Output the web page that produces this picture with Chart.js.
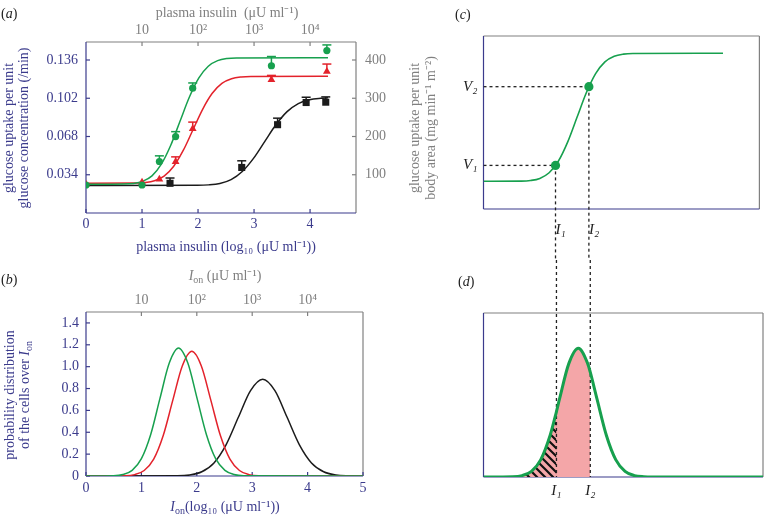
<!DOCTYPE html>
<html>
<head>
<meta charset="utf-8">
<script src="https://cdn.jsdelivr.net/npm/chart.js@4.4.1/dist/chart.umd.min.js"></script>
<style>
  body { margin: 0; background: #fff; width: 764px; height: 519px; position: relative; overflow: hidden; }
  canvas { position: absolute; }
</style>
</head>
<body>
<canvas id="ca" width="445" height="260" style="left:0;top:0"></canvas>
<canvas id="cb" width="445" height="259" style="left:0;top:260px"></canvas>
<canvas id="cc" width="364" height="260" style="left:400px;top:0"></canvas>
<canvas id="cd" width="364" height="259" style="left:400px;top:260px"></canvas>
<script>
// ---- panel (a): measured points (log10 insulin, uptake) and upward error bars
const aGreenX = [0, 1.0, 1.31, 1.6, 1.905, 3.31, 4.3];
const aGreenY = [0.0249, 0.0249, 0.0458, 0.0679, 0.111, 0.1309, 0.1444];
const aGreenErr = [0, 0, 0.005, 0.0044, 0.0046, 0.0082, 0.005];
const aRedX = [0, 1.0, 1.31, 1.6, 1.905, 3.31, 4.3];
const aRedY = [0.0255, 0.0273, 0.0299, 0.0455, 0.075, 0.1185, 0.1258];
const aRedErr = [0, 0, 0, 0.0044, 0.0058, 0.0038, 0.0066];
const aBlackX = [1.5, 2.78, 3.42, 3.93, 4.28];
const aBlackY = [0.0264, 0.0405, 0.0785, 0.0982, 0.0985];
const aBlackErr = [0.0047, 0.0059, 0.0058, 0.0047, 0.0047];

// fitted curves
const aFitGreenX = [0, 0.675, 0.843, 1.01, 1.178, 1.345, 1.513, 1.68, 1.848, 2.015, 2.183, 2.35, 2.518, 2.685, 4.32];
const aFitGreenY = [0.0255, 0.0257, 0.0262, 0.0281, 0.033, 0.0434, 0.0602, 0.0818, 0.1033, 0.1201, 0.1305, 0.1354, 0.1373, 0.1378, 0.138];
const aFitRedX = [0, 0.878, 1.05, 1.222, 1.394, 1.566, 1.738, 1.91, 2.082, 2.254, 2.426, 2.598, 2.77, 2.942, 4.32];
const aFitRedY = [0.0265, 0.0266, 0.0271, 0.0287, 0.0328, 0.0416, 0.0558, 0.074, 0.0922, 0.1064, 0.1152, 0.1193, 0.1209, 0.1214, 0.1215];
const aFitBlackX = [0, 1.99, 2.19, 2.39, 2.59, 2.79, 2.99, 3.19, 3.39, 3.59, 3.79, 3.99, 4.19, 4.32];
const aFitBlackY = [0.0245, 0.0246, 0.025, 0.0263, 0.0297, 0.0369, 0.0486, 0.0635, 0.0784, 0.0901, 0.0973, 0.1007, 0.102, 0.1024];

const aXTicks = [0, 1, 2, 3, 4];
const aYTicks = [0.034, 0.068, 0.102, 0.136];
const aY2Ticks = [100, 200, 300, 400];
const topTicks = [1, 2, 3, 4];
const topLabels = ['10', '10²', '10³', '10⁴'];

// ---- panel (b): distributions over log10 I_on
const bGreenX = [0, 0.497, 0.665, 0.833, 1.0, 1.168, 1.335, 1.503, 1.67, 1.838, 2.005, 2.173, 2.34, 2.508, 2.675, 2.843, 5];
const bGreenY = [0, 0.0026, 0.013, 0.0514, 0.1583, 0.3799, 0.7096, 1.0325, 1.17, 1.0325, 0.7096, 0.3799, 0.1583, 0.0514, 0.013, 0.0026, 0];
const bRedX = [0, 0.706, 0.878, 1.05, 1.222, 1.394, 1.566, 1.738, 1.91, 2.082, 2.254, 2.426, 2.598, 2.77, 2.942, 3.114, 5];
const bRedY = [0, 0.0025, 0.0127, 0.05, 0.1542, 0.3702, 0.6914, 1.006, 1.14, 1.006, 0.6914, 0.3702, 0.1542, 0.05, 0.0127, 0.0025, 0];
const bBlackX = [0, 1.65, 1.87, 2.09, 2.31, 2.53, 2.75, 2.97, 3.19, 3.41, 3.63, 3.85, 4.07, 4.29, 4.51, 4.73, 5];
const bBlackY = [0, 0.0019, 0.0098, 0.0389, 0.1197, 0.2874, 0.5368, 0.781, 0.885, 0.781, 0.5368, 0.2874, 0.1197, 0.0389, 0.0098, 0.0019, 0];
const bXTicks = [0, 1, 2, 3, 4, 5];
const bYTicks = [0, 0.2, 0.4, 0.6, 0.8, 1.0, 1.2, 1.4];

// ---- panels (c) and (d): schematic, arbitrary units
const cCurveX = [0, 1.368, 1.705, 2.042, 2.379, 2.716, 3.053, 3.39, 3.727, 4.064, 4.401, 4.738, 5.075, 5.412, 8.68];
const cCurveY = [1.6, 1.61, 1.646, 1.769, 2.094, 2.774, 3.883, 5.3, 6.717, 7.826, 8.506, 8.831, 8.954, 8.99, 9.0];
const markI = [2.61, 3.82];
const markV = [2.52, 7.07];
const markILabels = ['I₁', 'I₂'];
const markVLabels = ['V₁', 'V₂'];
const dCurveX = [0, 1.045, 1.38, 1.715, 2.05, 2.385, 2.61, 2.72, 3.055, 3.39, 3.725, 3.82, 4.06, 4.395, 4.73, 5.065, 5.4, 5.735, 6.07, 10];
const dCurveY = [0, 0.017, 0.087, 0.345, 1.062, 2.549, 3.99, 4.761, 6.928, 7.85, 6.928, 6.39, 4.761, 2.549, 1.062, 0.345, 0.087, 0.017, 0.0026, 0];

const BLUE = '#3b3b8c';
const GRAY = '#808080';
const GREEN = '#17a04e';
const RED = '#e3222b';
const BLACK = '#1b1b1b';
const PINK = '#f4a6a8';
const FONT = '"Liberation Serif", "Times New Roman", serif';
Chart.defaults.font.family = FONT;

const pts = (xs, ys) => xs.map((x, i) => ({ x: x, y: ys[i] }));
const ticksAt = arr => s => { s.ticks = arr.map(v => ({ value: v })); };
const fixW = w => s => { s.width = w; };
const fixH = h => s => { s.height = h; };
const noGrid = { display: false, drawTicks: false };

function curve(xs, ys, color, width) {
  return { data: pts(xs, ys), showLine: true, pointRadius: 0, borderColor: color,
    borderWidth: width || 1.5, cubicInterpolationMode: 'monotone', order: 2 };
}
function marks(xs, ys, err, color, style, r) {
  return { data: pts(xs, ys), err: err, pointStyle: style, pointRadius: r,
    backgroundColor: color, borderColor: color, borderWidth: 0, order: 0 };
}

// rotated / mixed-style text, parts may be italic or subscript
function drawRich(ctx, item) {
  const size = item.size || 14;
  const segs = item.parts.map(p => typeof p === 'string' ? { t: p } : Object.assign({}, p));
  const fontOf = s => (s.it ? 'italic ' : '') + (s.sub ? Math.round(size * 0.72) : size) + 'px ' + FONT;
  let w = 0;
  segs.forEach(s => { ctx.font = fontOf(s); s.w = ctx.measureText(s.t).width; w += s.w; });
  ctx.save();
  ctx.translate(item.x, item.y);
  if (item.rot) ctx.rotate(item.rot);
  ctx.fillStyle = item.color || '#222';
  ctx.textBaseline = 'middle';
  let x = item.align === 'left' ? 0 : -w / 2;
  segs.forEach(s => { ctx.font = fontOf(s); ctx.fillText(s.t, x, s.sub ? size * 0.3 : 0); x += s.w; });
  ctx.restore();
}
const textLayer = items => ({ id: 'texts', afterDraw(chart) { items.forEach(it => drawRich(chart.ctx, it)); } });

function seg(ctx, color, x0, y0, x1, y1) {
  ctx.strokeStyle = color; ctx.beginPath(); ctx.moveTo(x0, y0); ctx.lineTo(x1, y1); ctx.stroke();
}
// frame: blue left/bottom, gray top/right, short inward ticks
const frameLayer = ids => ({ id: 'frame', beforeDatasetsDraw(chart) {
  const ctx = chart.ctx, a = chart.chartArea;
  ctx.save(); ctx.lineWidth = 1.2;
  seg(ctx, GRAY, a.left, a.top, a.right, a.top);
  seg(ctx, GRAY, a.right, a.top, a.right, a.bottom);
  seg(ctx, BLUE, a.left, a.top, a.left, a.bottom);
  seg(ctx, BLUE, a.left, a.bottom, a.right, a.bottom);
  ids.forEach(id => {
    const s = chart.scales[id];
    s.ticks.forEach(t => {
      const p = s.getPixelForValue(t.value);
      if (s.position === 'bottom') seg(ctx, BLUE, p, a.bottom, p, a.bottom - 4);
      if (s.position === 'top') seg(ctx, GRAY, p, a.top, p, a.top + 4);
      if (s.position === 'left') seg(ctx, BLUE, a.left, p, a.left + 4, p);
      if (s.position === 'right') seg(ctx, GRAY, a.right, p, a.right - 4, p);
    });
  });
  ctx.restore();
} });

const errLayer = { id: 'errbars', beforeDatasetsDraw(chart) {
  const ctx = chart.ctx, sx = chart.scales.x, sy = chart.scales.y;
  ctx.save(); ctx.lineWidth = 1.5;
  chart.data.datasets.forEach(ds => {
    if (!ds.err) return;
    ds.data.forEach((p, j) => {
      const e = ds.err[j];
      if (!e) return;
      const px = sx.getPixelForValue(p.x), py = sy.getPixelForValue(p.y), pt = sy.getPixelForValue(p.y + e);
      seg(ctx, ds.borderColor, px, py, px, pt);
      seg(ctx, ds.borderColor, px - 4.5, pt, px + 4.5, pt);
    });
  });
  ctx.restore();
} };

// dotted drop lines at I1, I2 (c: from the dot down, d: from the top down to zero)
const guideLayer = (ys, afterIndex) => ({ id: 'guides', afterDatasetDraw(chart, args) {
  if (args.index !== afterIndex) return;
  const ctx = chart.ctx, sx = chart.scales.x, sy = chart.scales.y;
  ctx.save(); ctx.setLineDash([3, 3]); ctx.lineWidth = 1.3;
  markI.forEach((v, i) => {
    const px = sx.getPixelForValue(v);
    const y0 = ys ? sy.getPixelForValue(ys[i]) : 0;
    const y1 = ys ? chart.height : sy.getPixelForValue(0);
    seg(ctx, '#222', px, y0, px, y1);
  });
  ctx.restore();
} });

const tickFont = { family: FONT, size: 14 };
const common = { responsive: false, animation: false, events: [], plugins: { legend: { display: false }, tooltip: { enabled: false } } };

// ---------- (a)
new Chart(document.getElementById('ca'), {
  type: 'scatter',
  data: { datasets: [
    marks(aGreenX, aGreenY, aGreenErr, GREEN, 'circle', 3.6),
    marks(aRedX, aRedY, aRedErr, RED, 'triangle', 4.5),
    marks(aBlackX, aBlackY, aBlackErr, BLACK, 'rect', 5),
    curve(aFitGreenX, aFitGreenY, GREEN),
    curve(aFitRedX, aFitRedY, RED),
    curve(aFitBlackX, aFitBlackY, BLACK)
  ] },
  options: Object.assign({}, common, {
    scales: {
      x: { type: 'linear', position: 'bottom', min: 0, max: 4.82, afterBuildTicks: ticksAt(aXTicks), afterFit: fixH(47),
        grid: noGrid, border: { display: false }, ticks: { color: BLUE, font: tickFont, padding: 3 } },
      xTop: { type: 'linear', position: 'top', min: 0, max: 4.82, afterBuildTicks: ticksAt(topTicks), afterFit: fixH(42),
        grid: noGrid, border: { display: false },
        ticks: { color: GRAY, font: tickFont, padding: 3, callback: v => topLabels[topTicks.indexOf(v)] } },
      y: { type: 'linear', position: 'left', min: 0, max: 0.152, afterBuildTicks: ticksAt(aYTicks), afterFit: fixW(86),
        grid: noGrid, border: { display: false },
        ticks: { color: BLUE, font: tickFont, padding: 8, callback: v => v.toFixed(3) } },
      yRight: { type: 'linear', position: 'right', min: 0, max: 0.152 * 100 / 0.034, afterBuildTicks: ticksAt(aY2Ticks), afterFit: fixW(89),
        grid: noGrid, border: { display: false }, ticks: { color: GRAY, font: tickFont, padding: 9 } }
    }
  }),
  plugins: [frameLayer(['x', 'xTop', 'y', 'yRight']), errLayer, textLayer([
    { parts: ['(', { t: 'a', it: true }, ')'], x: 1, y: 14, align: 'left', color: '#222' },
    { parts: ['plasma insulin  (μU ml⁻¹)'], x: 227, y: 13, color: GRAY },
    { parts: ['plasma insulin (log₁₀ (μU ml⁻¹))'], x: 226, y: 247, color: BLUE },
    { parts: ['glucose uptake per unit'], x: 9, y: 128, rot: -Math.PI / 2, color: BLUE },
    { parts: ['glucose concentration (/min)'], x: 24, y: 128, rot: -Math.PI / 2, color: BLUE },
    { parts: ['glucose uptake per unit'], x: 415, y: 128, rot: -Math.PI / 2, color: GRAY },
    { parts: ['body area (mg min⁻¹ m⁻²)'], x: 431, y: 128, rot: -Math.PI / 2, color: GRAY }
  ])]
});

// ---------- (b)
new Chart(document.getElementById('cb'), {
  type: 'scatter',
  data: { datasets: [
    curve(bGreenX, bGreenY, GREEN),
    curve(bRedX, bRedY, RED),
    curve(bBlackX, bBlackY, BLACK)
  ] },
  options: Object.assign({}, common, {
    layout: { padding: { right: 82 } },
    scales: {
      x: { type: 'linear', position: 'bottom', min: 0, max: 5, afterBuildTicks: ticksAt(bXTicks), afterFit: fixH(43),
        grid: noGrid, border: { display: false }, ticks: { color: BLUE, font: tickFont, padding: 4 } },
      xTop: { type: 'linear', position: 'top', min: 0, max: 5, afterBuildTicks: ticksAt(topTicks), afterFit: fixH(52),
        grid: noGrid, border: { display: false },
        ticks: { color: GRAY, font: tickFont, padding: 3, callback: v => topLabels[topTicks.indexOf(v)] } },
      y: { type: 'linear', position: 'left', min: 0, max: 1.5, afterBuildTicks: ticksAt(bYTicks), afterFit: fixW(86),
        grid: noGrid, border: { display: false },
        ticks: { color: BLUE, font: tickFont, padding: 7, callback: v => v === 0 ? '0' : v.toFixed(1) } }
    }
  }),
  plugins: [frameLayer(['x', 'xTop', 'y']), textLayer([
    { parts: ['(', { t: 'b', it: true }, ')'], x: 1, y: 20, align: 'left', color: '#222' },
    { parts: [{ t: 'I', it: true }, { t: 'on', sub: true }, ' (μU ml⁻¹)'], x: 225, y: 16, color: GRAY },
    { parts: [{ t: 'I', it: true }, { t: 'on', sub: true }, '(log₁₀ (μU ml⁻¹))'], x: 225, y: 247, color: BLUE },
    { parts: ['probability distribution'], x: 10, y: 135, rot: -Math.PI / 2, color: BLUE },
    { parts: ['of the cells over ', { t: 'I', it: true }, { t: 'on', sub: true }], x: 25, y: 135, rot: -Math.PI / 2, color: BLUE }
  ])]
});

// ---------- (c)
const dash = { showLine: true, pointRadius: 0, borderColor: '#222', borderWidth: 1.3, borderDash: [3, 3], order: 1 };
new Chart(document.getElementById('cc'), {
  type: 'scatter',
  data: { datasets: [
    { data: pts(markI, markV), pointRadius: 4.6, backgroundColor: GREEN, borderWidth: 0, order: 0 },
    Object.assign({ data: [{ x: 0, y: markV[0] }, { x: markI[0], y: markV[0] }] }, dash),
    Object.assign({ data: [{ x: 0, y: markV[1] }, { x: markI[1], y: markV[1] }] }, dash),
    curve(cCurveX, cCurveY, GREEN, 1.6)
  ] },
  options: Object.assign({}, common, {
    layout: { padding: { top: 36, right: 1 } },
    scales: {
      x: { type: 'linear', position: 'bottom', min: 0, max: 10, afterBuildTicks: ticksAt(markI), afterFit: fixH(51),
        grid: noGrid, border: { display: false },
        ticks: { color: '#222', align: 'start', padding: 12, font: { family: FONT, size: 15, style: 'italic' },
          callback: v => markILabels[markI.indexOf(v)] } },
      y: { type: 'linear', position: 'left', min: 0, max: 10, afterBuildTicks: ticksAt(markV), afterFit: fixW(83.5),
        grid: noGrid, border: { display: false },
        ticks: { color: '#222', padding: 6, font: { family: FONT, size: 15, style: 'italic' },
          callback: v => markVLabels[markV.indexOf(v)] } }
    }
  }),
  plugins: [frameLayer([]), guideLayer(markV, 3), textLayer([
    { parts: ['(', { t: 'c', it: true }, ')'], x: 55, y: 15, align: 'left', color: '#222' }
  ])]
});

// ---------- (d)
function hatchPattern() {
  const c = document.createElement('canvas');
  c.width = 8; c.height = 8;
  const g = c.getContext('2d');
  g.fillStyle = PINK; g.fillRect(0, 0, 8, 8);
  g.strokeStyle = '#111'; g.lineWidth = 2.2;
  g.beginPath();
  g.moveTo(-2, -2); g.lineTo(10, 10);
  g.moveTo(-2, 6); g.lineTo(2, 10);
  g.moveTo(6, -2); g.lineTo(10, 2);
  g.stroke();
  return g.createPattern(c, 'repeat');
}
const dPts = pts(dCurveX, dCurveY);
const shade = { showLine: true, pointRadius: 0, borderWidth: 0, fill: 'origin', cubicInterpolationMode: 'monotone', order: 3 };
new Chart(document.getElementById('cd'), {
  type: 'scatter',
  data: { datasets: [
    curve(dCurveX, dCurveY, GREEN, 3),
    Object.assign({ data: dPts.filter(p => p.x > 0 && p.x <= markI[0]), backgroundColor: hatchPattern() }, shade),
    Object.assign({ data: dPts.filter(p => p.x > 0 && p.x <= markI[1]), backgroundColor: PINK }, shade)
  ] },
  options: Object.assign({}, common, {
    layout: { padding: { top: 53, right: 1 } },
    scales: {
      x: { type: 'linear', position: 'bottom', min: 0, max: 10, afterBuildTicks: ticksAt(markI), afterFit: fixH(42),
        grid: noGrid, border: { display: false },
        ticks: { color: '#222', padding: 5, font: { family: FONT, size: 15, style: 'italic' },
          callback: v => markILabels[markI.indexOf(v)] } },
      y: { type: 'linear', position: 'left', min: 0, max: 10, afterFit: fixW(83.5),
        grid: noGrid, border: { display: false }, ticks: { display: false } }
    }
  }),
  plugins: [frameLayer([]), guideLayer(null, 1), textLayer([
    { parts: ['(', { t: 'd', it: true }, ')'], x: 58, y: 22, align: 'left', color: '#222' }
  ])]
});
</script>
</body>
</html>
